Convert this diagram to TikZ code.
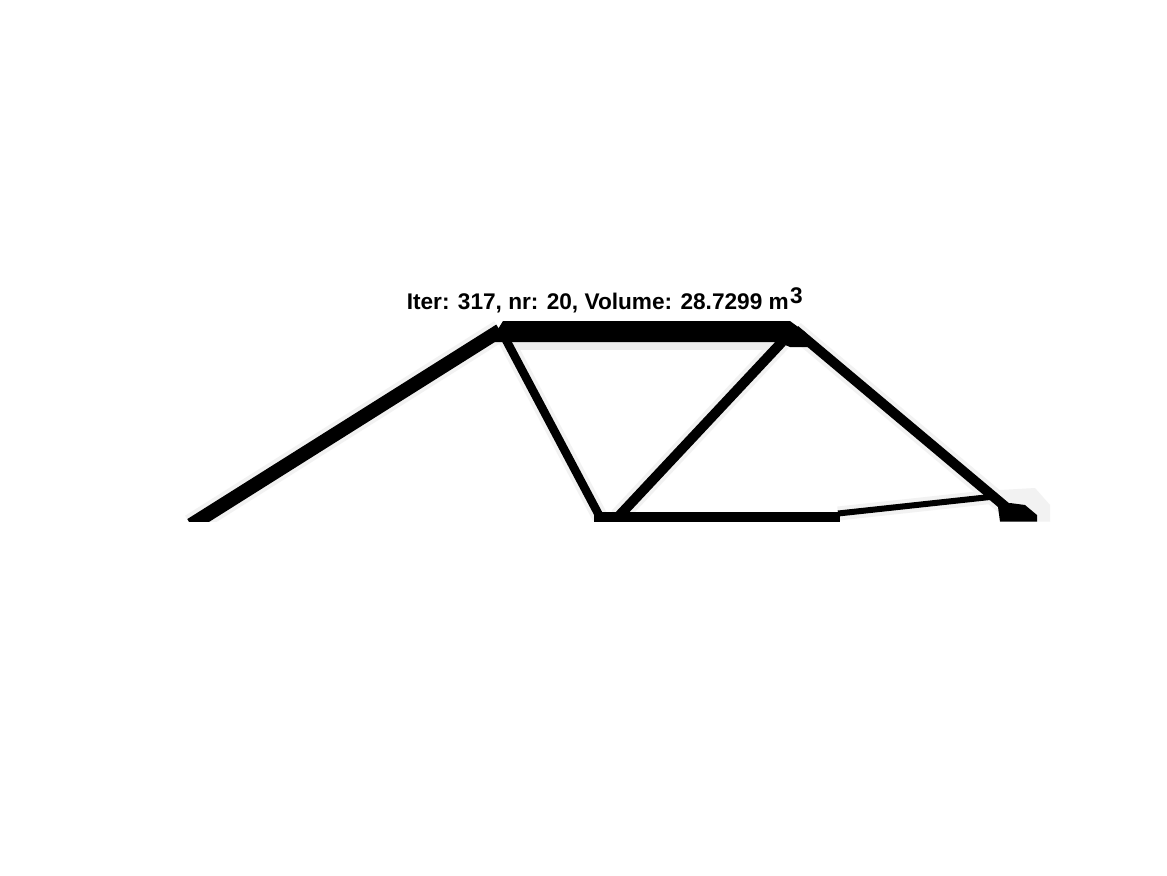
\documentclass[tikz,border=0pt]{standalone}
\usepackage{fontspec}
\setmainfont{Liberation Sans}
\usetikzlibrary{calc}
\tikzset{
  bar/.style={draw=black,line width=#1*0.25mm,line cap=butt},
  halo/.style={draw=black!5,line width=#1*0.25mm,line cap=butt},
  titletext/.style={font=\fontsize{16.1}{18}\selectfont\bfseries,inner sep=0pt,anchor=base west}
}

\begin{document}
\begin{tikzpicture}[x=0.25mm,y=-0.25mm]
  \useasboundingbox (0,0) rectangle (1167,875);
  \fill[white] (0,0) rectangle (1167,875);
  \coordinate (leftfoot) at (191,525);
  \coordinate (topleft) at (500,330.5);
  \coordinate (topright) at (795,330);
  \coordinate (bottommid) at (600,517);
  \coordinate (diagfoot) at (618,517);
  \coordinate (diagtop) at (782,342);
  \coordinate (leftdiagtop) at (505,338);
  \coordinate (rightfoot) at (1007,508);
  \coordinate (thinstart) at (838,513.5);
  \coordinate (thinend) at (990,497);
  \begin{scope}
    \clip (0,0) rectangle (1167,521.5);
    \foreach \a/\b/\w in {leftfoot/topleft/22,topright/rightfoot/18,diagfoot/diagtop/18,leftdiagtop/bottommid/16,thinstart/thinend/14}{
      \draw[halo=\w] (\a) -- (\b);
    }
    \fill[black!7] (513,342) rectangle (778,350);
    \fill[black!5] (1000,490) -- (1035,488) -- (1050,505) -- (1050,521.5) -- (1010,521.5) -- cycle;
    \draw[bar=14] (leftfoot) -- (topleft);
    \draw[bar=10] (topright) -- (rightfoot);
    \draw[bar=10] (diagfoot) -- (diagtop);
    \draw[bar=8.5] (leftdiagtop) -- (bottommid);
    \draw[bar=9.5] (594,516.8) -- (840,516.8);
    \draw[bar=6] (thinstart) -- (thinend);
    \fill[black] (1000,521.5) -- (998,507) -- (1010,503) -- (1025,505) -- (1037,515) -- (1037,521.5) -- cycle;
  \end{scope}
  \fill[black] (503,321) -- (790,321) -- (805,332) -- (815,347) -- (790,347) -- (778,342) -- (490,342) -- cycle;
  \node[titletext] (plottitle) at (406.5,309) {Iter: 317, nr: 20, Volume: 28.7299 m\kern0.3mm\raisebox{1.5mm}{3}};
\end{tikzpicture}
\end{document}
